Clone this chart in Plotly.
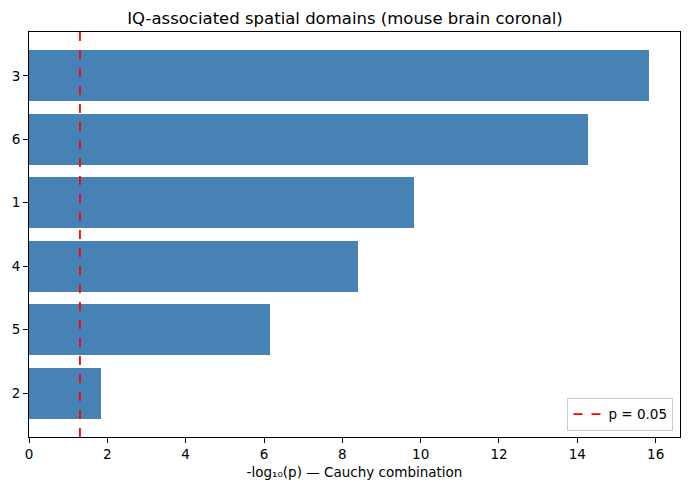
import math
import plotly.graph_objects as go

domains = ["2", "5", "4", "1", "6", "3"]
neglogp = [1.84, 6.15, 8.40, 9.83, 14.27, 15.83]
alpha = 0.05
threshold = -math.log10(alpha)

ypos = list(range(len(domains)))
ylo, yhi = -0.4 - 0.29, len(domains) - 1 + 0.4 + 0.29
xmax = max(neglogp) * 1.05

font_family = "DejaVu Sans"

fig = go.Figure()
fig.add_trace(go.Bar(
    x=neglogp, y=ypos, orientation="h", width=0.8,
    marker=dict(color="#4682B4", line=dict(width=0)),
    showlegend=False, hoverinfo="x+y",
))
fig.add_trace(go.Scatter(
    x=[threshold, threshold], y=[ylo, yhi], mode="lines",
    line=dict(color="red", width=1.8, dash="dash"),
    name=f"p = {alpha}",
))

fig.update_layout(
    width=690, height=490,
    margin=dict(l=29, r=10, t=32, b=53),
    paper_bgcolor="white", plot_bgcolor="white",
    font=dict(family=font_family, size=13.5, color="black"),
    title=dict(text="IQ-associated spatial domains (mouse brain coronal)",
               x=0.5, xanchor="center", y=1 - 18/490, yanchor="middle",
               font=dict(size=16.5, family=font_family)),
    showlegend=True,
    legend=dict(x=0.99, y=0.015, xanchor="right", yanchor="bottom",
                bordercolor="#cccccc", borderwidth=1, bgcolor="rgba(255,255,255,0.8)",
                font=dict(size=13.5)),
    bargap=0,
)
fig.update_xaxes(
    range=[0, xmax], tickvals=[0, 2, 4, 6, 8, 10, 12, 14, 16],
    showgrid=False, zeroline=False,
    showline=True, linecolor="black", linewidth=1, mirror=True,
    ticks="outside", ticklen=5, tickcolor="black",
    title=dict(text="-log₁₀(p) — Cauchy combination", font=dict(size=13.5), standoff=6),
)
fig.update_yaxes(
    range=[ylo, yhi], tickvals=ypos, ticktext=domains,
    showgrid=False, zeroline=False,
    showline=True, linecolor="black", linewidth=1, mirror=True,
    ticks="outside", ticklen=5, tickcolor="black",
)

fig.write_html("out.html")
